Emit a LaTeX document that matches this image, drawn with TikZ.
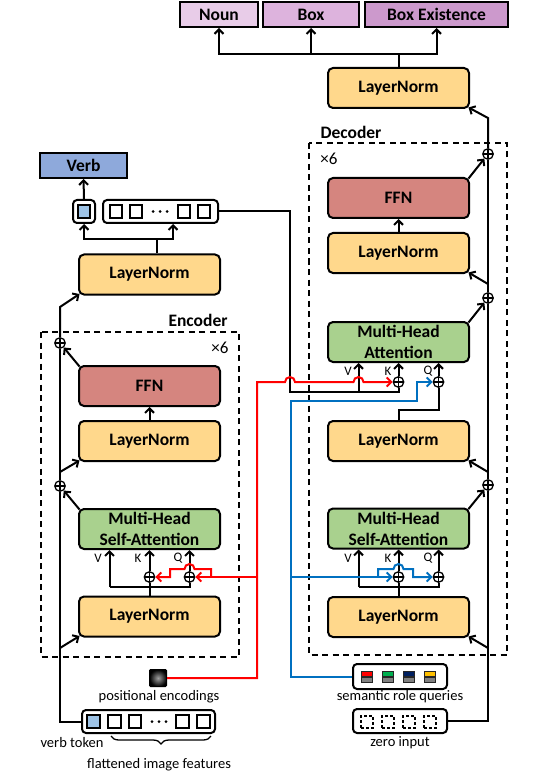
\documentclass[tikz,border=0pt]{standalone}
\usepackage{fontspec}
\setmainfont{Carlito}
\usetikzlibrary{arrows.meta,calc,decorations.pathreplacing}
\definecolor{lnfill}{HTML}{FFD88C}
\definecolor{ffnfill}{HTML}{D5857F}
\definecolor{mhafill}{HTML}{A9D18E}
\definecolor{verbfill}{HTML}{8EA9DB}
\definecolor{clsfill}{HTML}{9DC3E6}
\definecolor{nounfill}{HTML}{E8CCE8}
\definecolor{boxfill}{HTML}{DDB3DD}
\definecolor{existfill}{HTML}{CC99CC}
\definecolor{posred}{HTML}{FF0000}
\definecolor{qblue}{HTML}{0070C0}
\definecolor{srqred}{HTML}{FF0000}
\definecolor{srqgreen}{HTML}{00B050}
\definecolor{srqnavy}{HTML}{002060}
\definecolor{srqgold}{HTML}{FFC000}
\tikzset{
  block/.style={draw,line width=2pt,rounded corners=5pt,minimum width=141pt,minimum height=40pt,inner sep=0pt,align=center,font=\bfseries\fontsize{17.5}{21}\selectfont},
  ln/.style={block,fill=lnfill},
  ffn/.style={block,fill=ffnfill},
  mha/.style={block,fill=mhafill},
  outbox/.style={draw,line width=2pt,minimum height=25pt,inner sep=0pt,font=\bfseries\fontsize{17.5}{21}\selectfont},
  tokbox/.style={draw,line width=2pt,rounded corners=4pt,minimum height=23pt,inner sep=0pt},
  sq/.style={draw,line width=1.6pt,minimum size=12.5pt,inner sep=0pt},
  addop/.style={circle,draw,line width=1.3pt,minimum size=10.5pt,inner sep=0pt,
    path picture={\draw[line width=1.3pt] (path picture bounding box.north) -- (path picture bounding box.south) (path picture bounding box.west) -- (path picture bounding box.east);}},
  flow/.style={line width=2pt},
  arr/.style={flow,-{Straight Barb[length=4.5pt,width=9pt]}},
  posline/.style={arr,draw=posred},
  qline/.style={arr,draw=qblue},
  stack/.style={draw,line width=2pt,dash pattern=on 6pt off 4.5pt},
  small/.style={font=\fontsize{14.5}{17}\selectfont},
  vkq/.style={font=\fontsize{13}{15}\selectfont},
  title/.style={font=\bfseries\fontsize{17.5}{21}\selectfont},
}
\begin{document}
\begin{tikzpicture}[x=1pt,y=-1pt]
    \useasboundingbox (0,0) rectangle (548,775);
    \draw[stack] (41,332) rectangle (239,657);
    \draw[stack] (309,143) rectangle (507,655);
    \node[title] (enclabel) at (198,320) {Encoder};
    \node[title] (declabel) at (351,132) {Decoder};
    \node[font=\fontsize{17}{21}\selectfont] (encrep) at (220,348) {×6};
    \node[font=\fontsize{17}{21}\selectfont] (decrep) at (329,159) {×6};
    \node[outbox,fill=nounfill,minimum width=78pt] (noun) at (219,14.5) {Noun};
    \node[outbox,fill=boxfill,minimum width=96pt] (box) at (311,14.5) {Box};
    \node[outbox,fill=existfill,minimum width=143pt] (exist) at (436.5,14.5) {Box Existence};
    \node[outbox,fill=verbfill,minimum width=87pt] (verb) at (83.5,165.5) {Verb};
    \node[ln] (encln0) at (149.5,616.5) {LayerNorm};
    \node[mha] (encatt) at (149.5,529) {Multi-Head\\Self-Attention};
    \node[ln] (encln1) at (149.5,441) {LayerNorm};
    \node[ffn] (encffn) at (149.5,386) {FFN};
    \node[ln] (encln2) at (149.5,274.5) {LayerNorm};
    \node[ln] (decln0) at (398.5,617) {LayerNorm};
    \node[mha] (decself) at (398.5,528.5) {Multi-Head\\Self-Attention};
    \node[ln] (decln1) at (398.5,441) {LayerNorm};
    \node[mha] (deccross) at (398.5,342) {Multi-Head\\Attention};
    \node[ln] (decln2) at (398.5,253) {LayerNorm};
    \node[ffn] (decffn) at (398.5,198) {FFN};
    \node[ln] (decln3) at (398.5,88) {LayerNorm};
    \node[addop] (encres1) at (60,486) {};
    \node[addop] (encres2) at (60,343) {};
    \node[addop] (enck) at (149.5,577) {};
    \node[addop] (encq) at (189.5,577) {};
    \node[addop] (decres1) at (488,485) {};
    \node[addop] (decres2) at (488,298) {};
    \node[addop] (decres3) at (488,154) {};
    \node[addop] (decsk) at (398.5,577) {};
    \node[addop] (decsq) at (438.5,577) {};
    \node[addop] (decck) at (398.5,382) {};
    \node[addop] (deccq) at (438.5,382) {};
    \foreach \x/\y/\t in {98/558/V,138/558/K,178/558/Q,348/558/V,388/558/K,428/558/Q,348/371/V,388/371/K,428/371/Q}
        \node[vkq] (lab\x\y) at (\x,\y) {\t};
    \node[tokbox,minimum width=133pt] (tokin) at (148.5,721.5) {};
    \node[sq,fill=clsfill] (tin0) at (93.5,721.5) {};
    \foreach \x [count=\i] in {114.5,135,182.5,203.5} \node[sq] (tin\i) at (\x,721.5) {};
    \foreach \x in {152,159,166} \fill (\x,721.5) circle (1.5);
    \node[tokbox,minimum width=22pt] (clsout) at (84,211.5) {};
    \node[sq,fill=clsfill] (clssq) at (84,211.5) {};
    \node[tokbox,minimum width=115pt] (tokout) at (160.5,211.5) {};
    \foreach \x [count=\i] in {116,136,184,204} \node[sq] (tout\i) at (\x,211.5) {};
    \foreach \x in {153,160,167} \fill (\x,211.5) circle (1.5);
    \node[draw,line width=1pt,rounded corners=1pt,minimum size=17pt,inner sep=0pt,inner color=gray!75,outer color=black] (posenc) at (158,678) {};
    \node[tokbox,minimum width=94pt,minimum height=25pt] (queries) at (400,676.5) {};
    \foreach \c [count=\i] in {srqred,srqgreen,srqnavy,srqgold} {
        \node[fill=black!85,minimum size=12pt,inner sep=0pt] (q\i) at ({346+21*\i},677) {};
        \fill[\c] ($(q\i.north west)+(1.5,1.5)$) rectangle ($(q\i.east)+(-1.5,-0.8)$);
        \fill[gray] ($(q\i.west)+(1.5,0.8)$) rectangle ($(q\i.south east)+(-1.5,-1.5)$);
    }
    \node[tokbox,minimum width=94pt,minimum height=24pt] (zeroin) at (400,721) {};
    \foreach \i in {1,...,4}
        \node[draw,line width=1.4pt,dash pattern=on 3pt off 2pt,minimum size=12pt,inner sep=0pt] (z\i) at ({346+21*\i},722) {};
    \node[small] (poslabel) at (159,697) {positional encodings};
    \node[small] (srqlabel) at (400,697) {semantic role queries};
    \node[small] (zerolabel) at (400,743) {zero input};
    \node[small] (verbtok) at (72,743) {verb token};
    \node[small] (flatfeat) at (159,765) {flattened image features};
    \draw[line width=1.3pt,decorate,decoration={brace,mirror,amplitude=8pt}] (111,736) -- (211,736);
    \coordinate (encin0) at (60,648);
    \coordinate (encin1) at (60,472);
    \coordinate (encin2) at (60,307);
    \draw[flow] (tokin.west) -| (encres1);
    \draw[arr] (encin0) -- ([shift={(1.5,-1.5)}]encln0.south west);
    \draw[arr] ([shift={(1.5,1.5)}]encatt.north west) -- (encres1);
    \draw[flow] (encres1) -- (encres2);
    \draw[arr] (encin1) -- ([shift={(1.5,-1.5)}]encln1.south west);
    \draw[arr] ([shift={(1.5,1.5)}]encffn.north west) -- (encres2);
    \draw[arr] (encres2) -- (encin2) -- ([shift={(1.5,-1.5)}]encln2.south west);
    \draw[arr] (encln1.north) -- (encffn.south);
    \coordinate (encv) at (109.5,587);
    \draw[flow] (encln0.north) -- (enck);
    \draw[flow] (encv) -| (encq);
    \draw[arr] (encv) -- (encv |- encatt.south);
    \draw[arr] (enck) -- (enck |- encatt.south);
    \draw[arr] (encq) -- (encq |- encatt.south);
    \draw[flow] ([xshift=7.5pt]encln2.north) -- ++(0,-14) coordinate (encsplit);
    \draw[arr] (encsplit) -| (clsout.south);
    \draw[arr] (encsplit) -| ([xshift=12.5pt]tokout.south);
    \draw[arr] (clsout.north) -- (verb.south);
    \coordinate (decin0) at (488,648);
    \coordinate (decin1) at (488,472);
    \coordinate (decin2) at (488,284);
    \coordinate (decin3) at (488,118);
    \draw[flow] (zeroin.east) -| (decres1);
    \draw[arr] (decin0) -- ([shift={(-1.5,-1.5)}]decln0.south east);
    \draw[arr] ([shift={(-1.5,1.5)}]decself.north east) -- (decres1);
    \draw[flow] (decres1) -- (decres2);
    \draw[arr] (decin1) -- ([shift={(-1.5,-1.5)}]decln1.south east);
    \draw[arr] ([shift={(-1.5,1.5)}]deccross.north east) -- (decres2);
    \draw[flow] (decres2) -- (decres3);
    \draw[arr] (decin2) -- ([shift={(-1.5,-1.5)}]decln2.south east);
    \draw[arr] ([shift={(-1.5,1.5)}]decffn.north east) -- (decres3);
    \draw[arr] (decres3) -- (decin3) -- ([shift={(-1.5,-1.5)}]decln3.south east);
    \draw[arr] (decln2.north) -- (decffn.south);
    \coordinate (decv) at (358.5,587);
    \draw[flow] (decln0.north) -- (decsk);
    \draw[flow] (decv) -| (decsq);
    \draw[arr] (decv) -- (decv |- decself.south);
    \draw[arr] (decsk) -- (decsk |- decself.south);
    \draw[arr] (decsq) -- (decsq |- decself.south);
    \coordinate (memcorner) at (290,392);
    \coordinate (crossv) at (358.5,392);
    \draw[flow] (tokout.east) -| (memcorner) -| (decck);
    \draw[arr] (crossv) -- (crossv |- deccross.south);
    \draw[arr] (decck) -- (decck |- deccross.south);
    \draw[flow] (decln1.north) -- ++(0,-10) -| (deccq);
    \draw[arr] (deccq) -- (deccq |- deccross.south);
    \draw[flow] (decln3.north) -- ++(0,-13) coordinate (headsplit);
    \draw[arr] (headsplit) -| (noun.south);
    \draw[arr] (headsplit) -| (exist.south);
    \draw[arr] (box.south |- headsplit) -- (box.south);
    \coordinate (posbus) at (257,577);
    \draw[posline] (posenc.east) -| (257,382) -- (285,382) arc[start angle=180,end angle=360,radius=5] -- (353.5,382) arc[start angle=180,end angle=360,radius=5] -- (decck);
    \draw[posline] (posbus) -- (encq);
    \draw[posline] (211,577) -- (211,569) -- (194.5,569) arc[start angle=0,end angle=-180,radius=5] -- (170,569) -- (170,577) -- (enck);
    \draw[qline] (queries.west) -| (291,401) -- (417,401) -- (417,382) -- (deccq);
    \draw[qline] (291,577) -- (decsk);
    \draw[qline] (378,577) -- (378,569) -- (393.5,569) arc[start angle=180,end angle=360,radius=5] -- (413,569) -- (413,577) -- (decsq);
\end{tikzpicture}
\end{document}
